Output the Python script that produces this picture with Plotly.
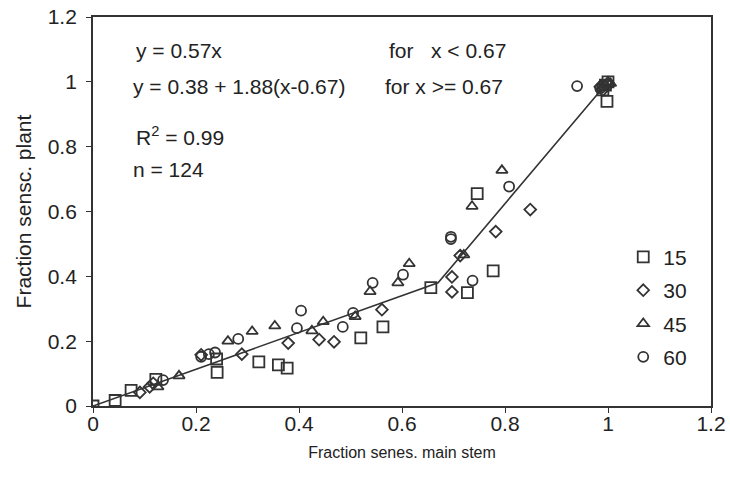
import plotly.graph_objects as go

# ---- data ----
x15 = [0, 0.043, 0.074, 0.122, 0.24, 0.241, 0.322, 0.36, 0.377, 0.52, 0.563, 0.656, 0.727, 0.777, 0.746, 0.998, 0.99, 1.0, 0.995]
y15 = [0, 0.017, 0.048, 0.082, 0.145, 0.104, 0.136, 0.127, 0.117, 0.21, 0.244, 0.365, 0.35, 0.417, 0.655, 0.94, 0.975, 1.0, 0.99]

x30 = [0.091, 0.11, 0.117, 0.21, 0.289, 0.379, 0.439, 0.468, 0.561, 0.697, 0.697, 0.713, 0.782, 0.849, 0.99, 1.0, 0.985]
y30 = [0.042, 0.059, 0.07, 0.158, 0.16, 0.194, 0.205, 0.198, 0.297, 0.352, 0.398, 0.464, 0.538, 0.606, 0.975, 0.99, 0.985]

x45 = [0.126, 0.167, 0.262, 0.309, 0.353, 0.425, 0.447, 0.509, 0.538, 0.592, 0.614, 0.72, 0.736, 0.794, 1.0, 0.995, 1.005]
y45 = [0.059, 0.093, 0.2, 0.23, 0.247, 0.232, 0.26, 0.276, 0.353, 0.38, 0.439, 0.466, 0.616, 0.727, 1.0, 0.99, 0.995]

x60 = [0.136, 0.21, 0.225, 0.237, 0.282, 0.396, 0.404, 0.485, 0.505, 0.543, 0.602, 0.695, 0.695, 0.737, 0.808, 0.94, 0.985, 0.99]
y60 = [0.08, 0.152, 0.16, 0.165, 0.207, 0.24, 0.294, 0.244, 0.287, 0.38, 0.405, 0.522, 0.515, 0.387, 0.677, 0.987, 0.98, 0.99]

fit_x = [0, 0.67, 1.0]
fit_y = [0, 0.38, 1.0]

series_names = ["15", "30", "45", "60"]
series_symbols = ["square-open", "diamond-open", "triangle-up-open", "circle-open"]
series_sizes = [11, 9, 10, 10]

INK = "#333333"
TXT = "#222222"
FONT = "Liberation Sans, Arial, sans-serif"

fig = go.Figure()

fig.add_trace(go.Scatter(x=fit_x, y=fit_y, mode="lines",
                         line=dict(color=INK, width=1.6), showlegend=False,
                         hoverinfo="skip"))

for xs, ys, name, sym, sz in zip([x15, x30, x45, x60], [y15, y30, y45, y60],
                                 series_names, series_symbols, series_sizes):
    fig.add_trace(go.Scatter(x=xs, y=ys, mode="markers", name=name, legendgroup=name,
                             marker=dict(symbol=sym, size=sz, color=INK,
                                         line=dict(color=INK, width=1.8))))

ann_font = dict(family=FONT, size=21, color=TXT)
annotations = [
    dict(x=0.08, y=1.097, text="y = 0.57x"),
    dict(x=0.571, y=1.097, text="for&nbsp;&nbsp;&nbsp;x &lt; 0.67"),
    dict(x=0.074, y=0.986, text="y = 0.38 + 1.88(x-0.67)"),
    dict(x=0.563, y=0.986, text="for x &gt;= 0.67"),
    dict(x=0.08, y=0.832, text="R<sup>2</sup> = 0.99"),
    dict(x=0.074, y=0.73, text="n = 124"),
]
for a in annotations:
    a.update(xref="x", yref="y", xanchor="left", yanchor="middle",
             showarrow=False, font=ann_font)

axis_common = dict(range=[0, 1.2], dtick=0.2, showgrid=False, zeroline=False,
                   showline=True, linecolor=INK, linewidth=1.8, mirror=True,
                   ticks="outside", ticklen=5, tickcolor=INK, tickwidth=1.2,
                   automargin=False,
                   tickfont=dict(family=FONT, size=21, color=TXT))

fig.update_layout(
    width=730, height=493,
    margin=dict(l=93, r=19, t=17, b=87),
    paper_bgcolor="white", plot_bgcolor="white",
    font=dict(family=FONT, color=TXT),
    xaxis=dict(**axis_common, ticklabelstandoff=-7,
               title=dict(text="Fraction senes. main stem",
                          font=dict(family=FONT, size=16, color=TXT),
                          standoff=13)),
    yaxis=dict(**axis_common, ticklabelstandoff=5,
               title=dict(text="Fraction sensc. plant",
                          font=dict(family=FONT, size=21, color=TXT),
                          standoff=10)),
    legend=dict(x=0.858, y=0.435, xanchor="left", yanchor="top",
                bgcolor="rgba(0,0,0,0)", traceorder="grouped", tracegroupgap=3,
                font=dict(family=FONT, size=21, color=TXT)),
    annotations=annotations,
)

fig.write_html("out.html")
